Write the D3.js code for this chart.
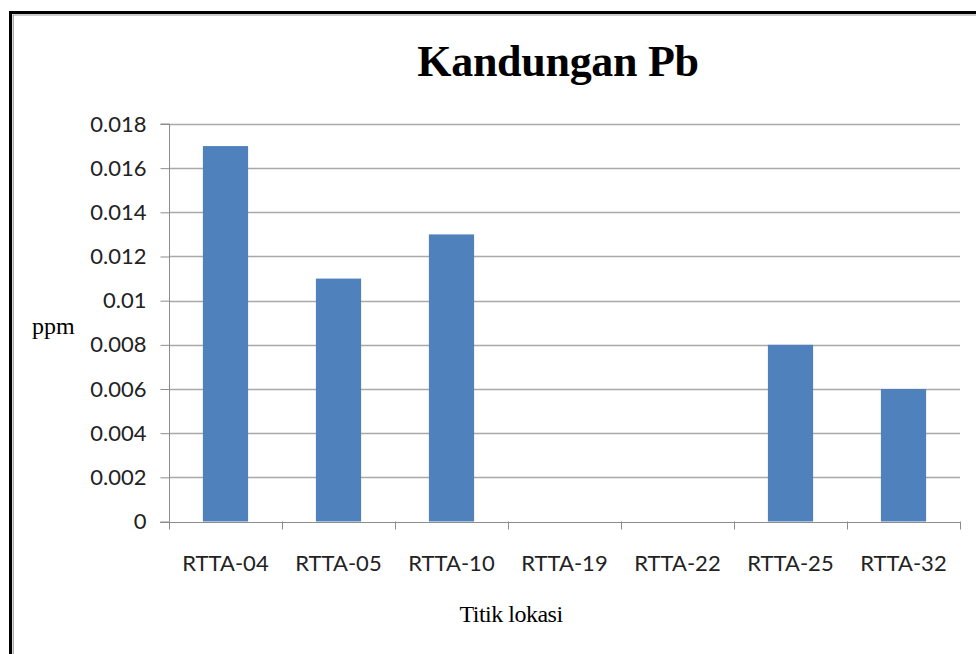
<!DOCTYPE html>
<html>
<head>
<meta charset="utf-8">
<script src="https://cdn.jsdelivr.net/npm/d3@7"></script>
<style>
  body { margin: 0; background: #fff; }
  svg { display: block; }
</style>
</head>
<body>
<svg id="chart" width="976" height="654"></svg>
<script>
// data
const locations = ["RTTA-04", "RTTA-05", "RTTA-10", "RTTA-19", "RTTA-22", "RTTA-25", "RTTA-32"];
const pbValues = [0.017, 0.011, 0.013, 0, 0, 0.008, 0.006];
const yTicks = [0, 0.002, 0.004, 0.006, 0.008, 0.01, 0.012, 0.014, 0.016, 0.018];

const svg = d3.select("#chart");
const W = 976, H = 654;
const plot = {left: 169, right: 960, top: 124, bottom: 521.5};

// frame (thick dark edge + grey inner line, open on right / bottom)
svg.append("path")
	.attr("d", `M10.5,${H} V12.5 H${W}`)
	.attr("fill", "none")
	.attr("stroke", "#000")
	.attr("stroke-width", 3);
svg.append("path")
	.attr("d", `M13.2,${H} V15 H${W}`)
	.attr("fill", "none")
	.attr("stroke", "#9a9a9a")
	.attr("stroke-width", 1.2);

const x = d3.scaleBand()
	.domain(locations)
	.range([plot.left, plot.right])
	.paddingInner(0.6)
	.paddingOuter(0.3);

const xEdge = d3.scaleLinear().domain([0, locations.length]).range([plot.left, plot.right]);

const y = d3.scaleLinear()
	.domain([0, 0.018])
	.range([plot.bottom, plot.top]);

// gridlines
svg.append("g")
	.selectAll("line")
	.data(yTicks.filter(d => d > 0))
	.join("line")
	.attr("x1", plot.left)
	.attr("x2", plot.right)
	.attr("y1", d => Math.round(y(d)) + 0.5)
	.attr("y2", d => Math.round(y(d)) + 0.5)
	.attr("stroke", "#a9a9a9")
	.attr("stroke-width", 1.4);

// bars
svg.append("g")
	.selectAll("rect")
	.data(locations.map((k, i) => ({k, v: pbValues[i]})))
	.join("rect")
	.attr("x", d => x(d.k))
	.attr("width", x.bandwidth())
	.attr("y", d => y(d.v))
	.attr("height", d => plot.bottom - y(d.v))
	.attr("fill", "#4f81bd");

// y axis
const yAxis = svg.append("g")
	.attr("transform", `translate(${plot.left + 0.5},0)`)
	.call(d3.axisLeft(y).tickValues(yTicks).tickSize(9).tickPadding(14)
		.tickFormat(d => d === 0 ? "0" : String(+d.toFixed(3))));
yAxis.select(".domain").attr("stroke", "#8c8c8c").attr("d", `M-9,${plot.top}H0V${plot.bottom}`);
yAxis.selectAll(".tick line").attr("stroke", "#8c8c8c");
yAxis.selectAll("text")
	.attr("font-family", "Lato, sans-serif")
	.attr("font-size", 22)
	.attr("fill", "#222");

// x axis baseline + category ticks on band edges
const xg = svg.append("g");
xg.append("line")
	.attr("x1", plot.left - 9).attr("x2", plot.right)
	.attr("y1", Math.round(plot.bottom) + 0.5).attr("y2", Math.round(plot.bottom) + 0.5)
	.attr("stroke", "#8c8c8c");
xg.selectAll(".edge")
	.data(d3.range(locations.length + 1))
	.join("line")
	.attr("class", "edge")
	.attr("x1", i => Math.round(xEdge(i)) + 0.5)
	.attr("x2", i => Math.round(xEdge(i)) + 0.5)
	.attr("y1", plot.bottom)
	.attr("y2", plot.bottom + 8)
	.attr("stroke", "#8c8c8c");
xg.selectAll("text")
	.data(locations)
	.join("text")
	.attr("x", d => x(d) + x.bandwidth() / 2)
	.attr("y", 571)
	.attr("text-anchor", "middle")
	.attr("font-family", "Lato, sans-serif")
	.attr("font-size", 22)
	.attr("fill", "#222")
	.text(d => d);

// title and axis titles
svg.append("text")
	.attr("x", 558).attr("y", 76)
	.attr("text-anchor", "middle")
	.attr("font-family", "'Liberation Serif', 'Times New Roman', serif")
	.attr("font-weight", "bold")
	.attr("font-size", 44)
	.attr("letter-spacing", -0.3)
	.text("Kandungan Pb");

svg.append("text")
	.attr("x", 32).attr("y", 334)
	.attr("font-family", "'Liberation Serif', 'Times New Roman', serif")
	.attr("font-size", 24)
	.text("ppm");

svg.append("text")
	.attr("x", 511).attr("y", 622)
	.attr("text-anchor", "middle")
	.attr("font-family", "'Liberation Serif', 'Times New Roman', serif")
	.attr("font-size", 24)
	.attr("letter-spacing", -0.5)
	.text("Titik lokasi");
</script>
</body>
</html>
